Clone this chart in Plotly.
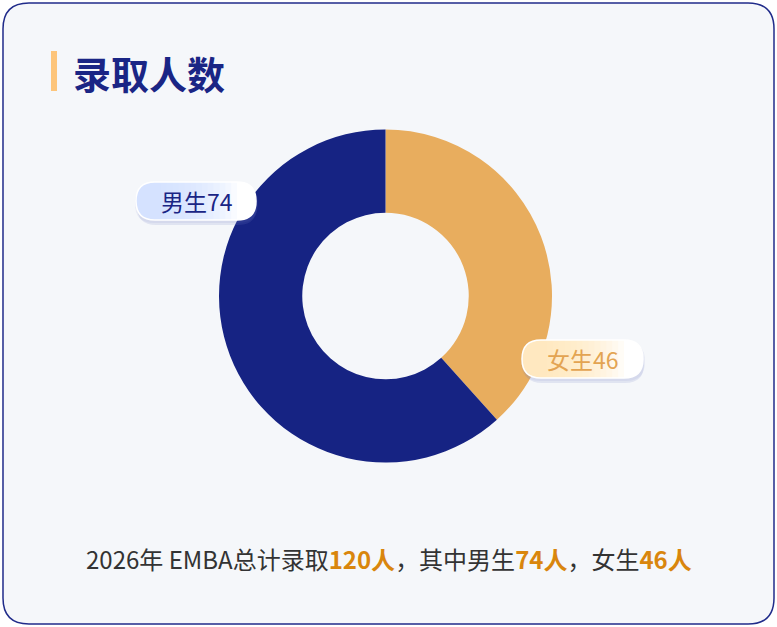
import plotly.graph_objects as go

labels = ["女生", "男生"]
values = [46, 74]
colors = ["#e8ad5e", "#162383"]
title_text = "录取人数"
total = 120

W, H = 777, 627
FONT = "Noto Sans CJK SC"


def px(x):
    return x / W


def py(y):
    return 1 - y / H


def path_str(pts):
    s = ""
    for p in pts:
        s += p[0] + " " + " ".join(f"{px(a):.5f},{py(b):.5f}" for a, b in p[1:]) + " "
    return s + "Z"


def rrect(x0, y0, x1, y1, r):
    return path_str([
        ("M", (x0 + r, y0)),
        ("L", (x1 - r, y0)),
        ("Q", (x1, y0), (x1, y0 + r)),
        ("L", (x1, y1 - r)),
        ("Q", (x1, y1), (x1 - r, y1)),
        ("L", (x0 + r, y1)),
        ("Q", (x0, y1), (x0, y1 - r)),
        ("L", (x0, y0 + r)),
        ("Q", (x0, y0), (x0 + r, y0)),
    ])


def left_round(x0, y0, x1, y1, r):
    return path_str([
        ("M", (x0 + r, y0)),
        ("L", (x1, y0)),
        ("L", (x1, y1)),
        ("L", (x0 + r, y1)),
        ("Q", (x0, y1), (x0, y1 - r)),
        ("L", (x0, y0 + r)),
        ("Q", (x0, y0), (x0 + r, y0)),
    ])


fig = go.Figure()
fig.add_trace(go.Pie(
    labels=labels, values=values, hole=0.5, sort=False, direction="clockwise",
    rotation=0, marker=dict(colors=colors, line=dict(width=0)),
    textinfo="none", hoverinfo="label+value", showlegend=False,
    domain=dict(x=[px(219), px(552)], y=[py(463), py(129)]),
))

shapes = []
# card
shapes.append(dict(type="path", xref="paper", yref="paper", path=rrect(3, 3, 774, 624, 26),
                   fillcolor="#f5f7fa", line=dict(color="#202b8a", width=1.5), layer="below"))
# title bar
shapes.append(dict(type="rect", xref="paper", yref="paper", x0=px(51), x1=px(57), y0=py(91), y1=py(51),
                   fillcolor="#fdc57b", line=dict(width=0)))
# pills with gradient (stacked translucent layers)
pills = [(136, 182, 256, 220, (206, 222, 255)), (522, 340, 643, 378, (253, 228, 185))]
N = 14
for (x0, y0, x1, y1, rgb) in pills:
    r = (y1 - y0) / 2
    shapes.append(dict(type="path", xref="paper", yref="paper", path=rrect(x0 + 1, y0 + 4, x1 + 1, y1 + 5, r),
                       fillcolor="rgba(120,130,200,0.16)", line=dict(width=0)))
    shapes.append(dict(type="path", xref="paper", yref="paper", path=rrect(x0 - 1, y0 + 2, x1 + 2, y1 + 3, r),
                       fillcolor="rgba(120,130,200,0.10)", line=dict(width=0)))
    shapes.append(dict(type="path", xref="paper", yref="paper", path=rrect(x0, y0, x1, y1, r),
                       fillcolor="#ffffff", line=dict(width=0)))
    span = (x1 - r) - (x0 + r)
    for i in range(N):
        xe = x0 + r + span * (1 - i / N)
        shapes.append(dict(type="path", xref="paper", yref="paper", path=left_round(x0, y0, xe, y1, r),
                           fillcolor=f"rgba({rgb[0]},{rgb[1]},{rgb[2]},0.13)", line=dict(width=0)))
    shapes.append(dict(type="path", xref="paper", yref="paper", path=rrect(x0, y0, x1, y1, r),
                       fillcolor="rgba(0,0,0,0)", line=dict(color="#ffffff", width=1.5)))

annotations = [
    dict(x=px(71), y=py(72), xref="paper", yref="paper", xanchor="left", yanchor="middle",
         text=f"<b>{title_text}</b>", showarrow=False, font=dict(family=FONT, size=38, color="#1a2585")),
    dict(x=px(197), y=py(201), xref="paper", yref="paper", xanchor="center", yanchor="middle",
         text=f"{labels[1]}{values[1]}", showarrow=False, font=dict(family=FONT, size=23, color="#1a2585")),
    dict(x=px(583), y=py(359), xref="paper", yref="paper", xanchor="center", yanchor="middle",
         text=f"{labels[0]}{values[0]}", showarrow=False, font=dict(family=FONT, size=23, color="#e3a452")),
]
hl = "#d9860d"
bottom = (f"2026年 EMBA总计录取<b><span style='color:{hl}'>{total}人</span></b>，"
          f"其中{labels[1]}<b><span style='color:{hl}'>{values[1]}人</span></b>，"
          f"{labels[0]}<b><span style='color:{hl}'>{values[0]}人</span></b>")
annotations.append(dict(x=px(389), y=py(558), xref="paper", yref="paper", xanchor="center", yanchor="middle",
                        text=bottom, showarrow=False, font=dict(family=FONT, size=24, color="#333333")))

fig.update_layout(
    width=W, height=H, margin=dict(l=0, r=0, t=0, b=0),
    paper_bgcolor="#ffffff", plot_bgcolor="#ffffff",
    shapes=shapes, annotations=annotations,
)
fig.write_html("out.html", config={"displayModeBar": False},
               post_script="document.body.style.margin='0';document.body.style.overflow='hidden';")
